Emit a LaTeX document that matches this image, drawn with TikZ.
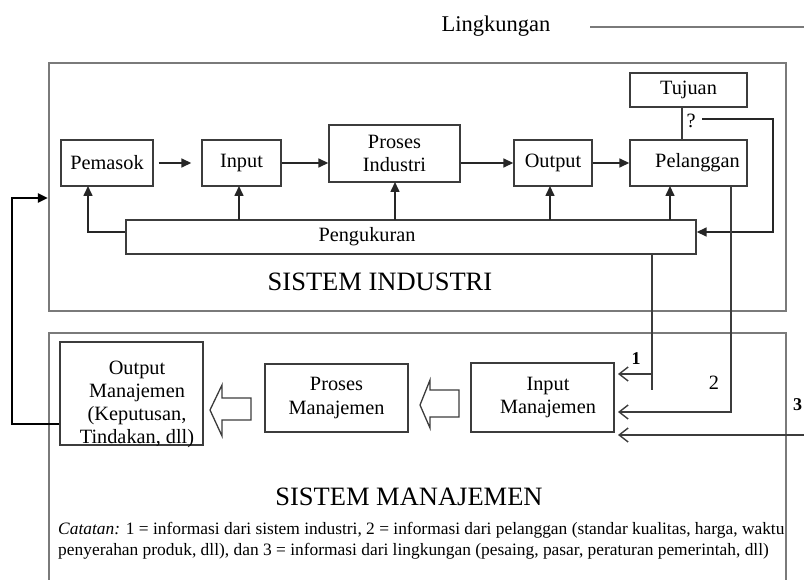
\documentclass[tikz,border=0pt]{standalone}
\usepackage{fontspec}
\setmainfont{Liberation Serif}
\usetikzlibrary{arrows.meta,calc}
\definecolor{boxline}{HTML}{3C3C3C}
\definecolor{frameline}{HTML}{7A7A7A}
\tikzset{
  box/.style={draw=boxline, line width=1.4pt, inner sep=0pt, anchor=center,
    align=center, font=\fontsize{20.3}{23.5}\selectfont},
  frame/.style={draw=frameline, line width=2.2pt, inner sep=0pt, anchor=center},
  arr/.style={draw=black!85, line width=1.6pt, -{Triangle[length=10pt,width=9pt]}},
  link/.style={draw=boxline, line width=1.4pt},
  infoarr/.style={draw=boxline, line width=1.4pt, -{Straight Barb[length=9pt,width=14pt,line width=1.4pt]}},
  blockarr/.style={draw=boxline, line width=1.3pt, fill=white, line join=miter},
  lbl/.style={inner sep=0pt, font=\fontsize{20.3}{23.5}\selectfont},
  title/.style={inner sep=0pt, font=\fontsize{26.5}{30}\selectfont},
}
\begin{document}
\begin{tikzpicture}[x=1pt,y=-1pt]
\useasboundingbox (0,0) rectangle (804,580);

% environment
\node[lbl, font=\fontsize{22.5}{26}\selectfont] (env) at (496,26) {Lingkungan};
\coordinate (envA) at (590,27);
\coordinate (envB) at (804,27);
\draw[frameline, line width=2pt] (envA) -- (envB);

% industrial system frame
\node[frame, minimum width=737pt, minimum height=248pt] (sysind) at (417.5,187) {};
\node[title] (sysindlbl) at (380,282) {SISTEM INDUSTRI};

% industrial system blocks
\node[box, minimum width=92pt, minimum height=46pt] (pem) at (107,163) {Pemasok};
\node[box, minimum width=79pt, minimum height=46pt] (inp) at (241.5,163) {Input};
\node[box, minimum width=131pt, minimum height=57pt] (pro) at (394.5,153.5) {Proses\\Industri};
\node[box, minimum width=78pt, minimum height=46pt] (out) at (553,163) {Output};
\node[box, minimum width=117pt, minimum height=46pt] (pel) at (688.5,163) {\hspace*{18pt}Pelanggan};
\node[box, minimum width=117pt, minimum height=34pt] (tuj) at (688.5,90) {Tujuan};
\node[box, minimum width=570pt, minimum height=34pt] (peng) at (411,237) {\hspace*{-88pt}Pengukuran};

% main flow
\draw[arr] ([xshift=5pt]pem.east) -- ([xshift=-10pt]inp.west);
\draw[arr] (inp.east) -- (pro.west |- inp.east);
\draw[arr] (pro.east |- out.west) -- (out.west);
\draw[arr] (out.east) -- (pel.west);

% measurement feedback
\draw[arr] (peng.west |- 0,232) -| (88,186);
\draw[arr] (239,220) -- (239,186);
\draw[arr] (395,220) -- (395,182);
\draw[arr] (550,220) -- (550,186);
\draw[arr] (670,220) -- (670,186);

% goal check
\draw[link] (682,107) -- (682,140);
\node[lbl] (qm) at (691,121) {?};
\coordinate (qa) at (702,119);
\coordinate (qb) at (773,119);
\draw[arr] (qa) -- (qb) |- ([yshift=5pt]peng.east);

% management system frame (open at the bottom)
\coordinate (mfA) at (49,580);
\coordinate (mfB) at (49,333);
\coordinate (mfC) at (786,333);
\coordinate (mfD) at (786,580);
\draw[frameline, line width=2.2pt] (mfA) -- (mfB) -- (mfC) -- (mfD);
\node[title] (sysmanlbl) at (409,497) {SISTEM MANAJEMEN};

% management blocks
\node[box, minimum width=143pt, minimum height=103pt] (om) at (131.5,393.5) {};
\node[lbl, align=center, font=\fontsize{20.3}{23}\selectfont] (omlbl) at (137,404)
  {Output\\Manajemen\\(Keputusan,\\Tindakan, dll)};
\node[box, minimum width=143pt, minimum height=68pt] (pm) at (336.5,398) {Proses\\Manajemen};
\node[box, minimum width=143pt, minimum height=69pt] (im) at (542.5,397.5) {\hspace*{11pt}Input\\\hspace*{11pt}Manajemen};

% hollow block arrows
\draw[blockarr] (420,405) -- (430,380) -- (430,390) -- (459,390) -- (459,417)
  -- (430,417) -- (430,428) -- cycle;
\draw[blockarr] (210,410) -- (222,385) -- (222,398) -- (251,398) -- (251,420)
  -- (222,420) -- (222,436) -- cycle;

% decisions back into the industrial system
\draw[black, line width=2pt, -{Triangle[length=10pt,width=9pt]}]
  (om.west |- 0,424) -- (12,424) -- (12,198) -- (sysind.west |- 0,198);

% information inputs
\draw[link] ([xshift=241pt]peng.south) -- (652,390);
\draw[infoarr] (652,374) -- (618,374);
\node[lbl, font=\bfseries\fontsize{18}{22}\selectfont] (n1) at (636,359) {1};

\draw[infoarr] (pel.south -| 731,0) -- (731,412) -- (618,412);
\node[lbl] (n2) at (714,383) {2};

\coordinate (envin) at (804,435);
\draw[infoarr] (envin) -- (618,435);
\node[lbl, font=\bfseries\fontsize{18}{22}\selectfont, anchor=west] (n3) at (793,405) {3};

% note
\node[inner sep=0pt, anchor=north west, align=left, font=\fontsize{17.4}{21}\selectfont] (note) at (58,522)
  {\textit{Catatan:} 1 = informasi dari sistem industri, 2 = informasi dari pelanggan (standar kualitas, harga, waktu\\
   penyerahan produk, dll), dan 3 = informasi dari lingkungan (pesaing, pasar, peraturan pemerintah, dll)};
\end{tikzpicture}
\end{document}
